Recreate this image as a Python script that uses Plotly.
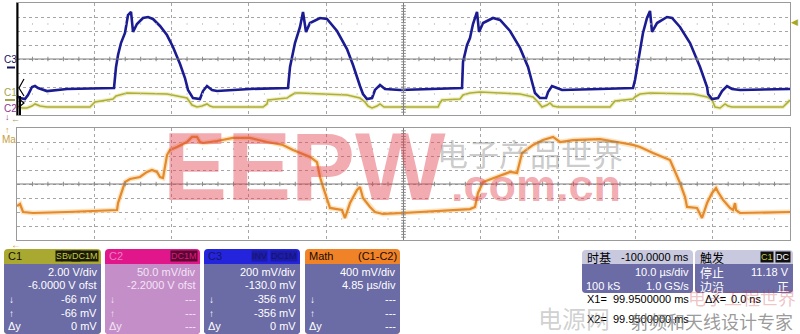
import plotly.graph_objects as go

W, H = 800, 334

# ---------------- data: time in µs, amplitude in screen divisions ----------------
c3_t = [0, 0.39, 1.03, 1.42, 1.94, 2.33, 2.72, 3.88, 6.47, 12.55,
        12.81, 13.07, 13.45, 13.97, 14.36, 14.75, 15.01, 15.52, 16.30, 16.95,
        17.59, 18.50, 19.40, 20.18, 21.09, 21.73, 22.12, 22.77, 23.67, 24.06,
        24.58, 25.23, 25.87, 30.14, 35.06, 35.32, 35.96, 36.61, 37.00, 37.39,
        37.90, 39.20, 40.10, 41.40, 42.69, 43.47, 44.37, 44.76, 45.28, 45.93,
        46.31, 46.96, 47.61, 49.55, 57.57, 57.70, 58.22, 58.60, 58.99, 59.51,
        59.77, 60.29, 61.58, 62.49, 63.78, 65.07, 66.11, 66.76, 67.01, 67.66,
        68.44, 68.70, 69.21, 69.86, 70.51, 75.42, 79.69, 79.95, 80.21, 80.60,
        80.98, 81.50, 81.89, 82.15, 82.80, 84.09, 84.74, 85.77, 87.07, 88.36,
        89.27, 89.40, 89.92, 90.69, 91.21, 91.85, 92.50, 93.54, 100.0]
c3_v = [-2.64, -2.79, -2.86, -2.57, -2.0, -1.93, -2.07, -2.29, -2.14, -2.07,
        -0.57, 0.29, 1.14, 1.86, 3.14, 3.36, 1.93, 2.5, 2.93, 3.0,
        2.86, 2.36, 1.71, 0.86, -0.36, -1.36, -2.21, -2.79, -2.86, -2.29,
        -1.93, -2.21, -2.29, -2.14, -2.07, -0.57, 1.14, 2.29, 3.36, 1.93,
        2.57, 2.93, 2.86, 2.0, 0.71, -0.43, -1.93, -2.5, -2.86, -2.79,
        -2.21, -1.86, -2.14, -2.21, -2.07, -0.21, 1.0, 1.5, 2.5, 3.36,
        1.93, 2.57, 2.93, 2.79, 2.0, 0.79, -0.57, -2.0, -2.43, -2.79,
        -2.79, -2.36, -1.93, -2.07, -2.21, -2.14, -2.07, -1.5, -0.57, 0.64,
        1.86, 2.93, 3.43, 1.93, 2.57, 3.0, 2.93, 2.29, 1.14, -0.57,
        -2.0, -2.5, -2.86, -2.79, -2.29, -1.93, -2.14, -2.21, -2.14]

c1_t = [0, 0.65, 1.29, 1.94, 2.33, 2.98, 3.88, 9.44, 10.09, 12.42,
        12.81, 13.32, 14.23, 19.41, 21.09, 21.99, 22.64, 23.29, 23.93, 24.58,
        24.97, 25.36, 31.83, 32.34, 32.47, 34.93, 35.32, 35.96, 36.61, 42.69,
        44.37, 45.02, 45.41, 45.93, 46.57, 46.96, 47.48, 54.47, 54.72, 54.98,
        57.31, 57.70, 58.60, 59.90, 65.07, 66.76, 67.40, 67.92, 68.57, 68.95,
        69.34, 69.99, 76.72, 77.10, 77.36, 79.69, 79.95, 80.60, 81.89, 87.45,
        89.27, 89.92, 90.30, 90.95, 91.60, 91.98, 92.50, 99.10, 99.61, 100.0]
c1_v = [-3.36, -3.5, -3.5, -3.36, -3.21, -3.36, -3.43, -3.43, -3.07, -2.86,
        -2.64, -2.57, -2.43, -2.5, -2.71, -2.79, -3.29, -3.43, -3.36, -3.21,
        -3.36, -3.43, -3.43, -3.21, -2.93, -2.79, -2.64, -2.43, -2.43, -2.57,
        -2.79, -3.07, -3.36, -3.5, -3.36, -3.21, -3.43, -3.43, -3.14, -2.93,
        -2.86, -2.57, -2.43, -2.36, -2.5, -2.71, -3.07, -3.43, -3.29, -3.14,
        -3.36, -3.43, -3.43, -3.14, -3.0, -2.86, -2.71, -2.5, -2.43, -2.5,
        -2.71, -2.93, -3.43, -3.5, -3.21, -3.36, -3.43, -3.43, -3.14, -2.93]

math_t = [0, 0.39, 0.78, 2.07, 6.47, 12.94, 13.07, 13.58, 13.97, 14.62,
          15.91, 16.82, 17.46, 18.11, 18.50, 18.89, 19.15, 19.41, 19.79, 20.70,
          21.99, 22.64, 23.29, 23.67, 24.06, 25.87, 27.94, 30.14, 32.34, 34.41,
          35.71, 37.91, 38.81, 39.20, 39.59, 40.10, 40.49, 41.40, 42.05, 42.43,
          43.08, 43.99, 44.37, 44.76, 45.67, 46.31, 46.96, 47.35, 49.94, 53.82,
          58.60, 59.25, 59.64, 60.29, 62.10, 63.78, 64.69, 65.33, 66.76, 68.05,
          69.34, 70.25, 71.93, 75.42, 77.62, 79.69, 80.60, 82.28, 84.48, 84.87,
          85.77, 86.42, 86.68, 87.97, 88.62, 89.27, 89.92, 90.43, 90.69, 91.34,
          92.24, 92.63, 92.89, 93.02, 93.54, 100.0]
math_v = [-1.57, -1.43, -2.0, -2.07, -2.0, -1.86, -1.36, -0.43, 0.14, 0.36,
          0.5, 0.86, 1.0, 0.86, 0.5, 0.43, 1.21, 2.07, 2.43, 2.64,
          3.0, 3.36, 3.36, 3.0, 2.93, 3.07, 3.29, 3.29, 3.0, 2.79,
          2.43, 1.93, 1.57, 0.5, -0.21, -1.14, -1.71, -1.79, -1.86, -2.43,
          -1.36, -0.43, -0.21, -1.0, -1.64, -2.0, -2.07, -2.14, -2.07, -1.93,
          -1.79, -1.64, -0.64, 0.14, 0.5, 0.86, 0.79, 2.21, 2.79, 3.14,
          3.36, 3.0, 3.14, 3.21, 3.0, 2.79, 2.64, 2.21, 1.71, 1.21,
          0.07, -0.93, -1.64, -1.71, -2.43, -1.36, -0.64, -0.29, -0.57, -1.14,
          -1.71, -1.86, -1.36, -1.86, -2.07, -2.0]

# readout texts
c1_rows = ["2.00 V/div", "-6.0000 V ofst", "-66 mV", "-66 mV", "0 mV"]
c2_rows = ["50.0 mV/div", "-2.2000 V ofst", "---", "---", "---"]
c3_rows = ["200 mV/div", "-130.0 mV", "-356 mV", "-356 mV", "0 mV"]
math_rows = ["400 mV/div", "4.85 µs/div", "---", "---", "---"]

assert len(c3_t) == len(c3_v) and len(c1_t) == len(c1_v) and len(math_t) == len(math_v)

FONT = "Liberation Sans, Arial, sans-serif"
CJK = "Noto Sans CJK SC"

fig = go.Figure()
fig.add_trace(go.Scatter(x=c1_t, y=c1_v, mode="lines", line=dict(color="rgba(225,225,150,0.55)", width=4),
                         xaxis="x", yaxis="y", hoverinfo="skip"))
fig.add_trace(go.Scatter(x=c1_t, y=c1_v, mode="lines", line=dict(color="#afaf35", width=1.6),
                         xaxis="x", yaxis="y", hoverinfo="skip"))
fig.add_trace(go.Scatter(x=c3_t, y=c3_v, mode="lines", line=dict(color="#1b1b92", width=2.6),
                         xaxis="x", yaxis="y", hoverinfo="skip"))
fig.add_trace(go.Scatter(x=math_t, y=math_v, mode="lines", line=dict(color="rgba(250,210,150,0.6)", width=5),
                         xaxis="x2", yaxis="y2", hoverinfo="skip"))
fig.add_trace(go.Scatter(x=math_t, y=math_v, mode="lines", line=dict(color="#e4892c", width=2.2),
                         xaxis="x2", yaxis="y2", hoverinfo="skip"))

axx = dict(range=[0, 100], dtick=10, showgrid=True, gridcolor="#a6a6a6", griddash="dot", gridwidth=1,
           zeroline=False, showticklabels=False, ticks="", showline=True, linecolor="#9a9a9a",
           linewidth=1, mirror=True, fixedrange=True)
axy = dict(range=[-4, 4], dtick=1, showgrid=True, gridcolor="#a6a6a6", griddash="dot", gridwidth=1,
           zeroline=False, showticklabels=False, ticks="", showline=True, linecolor="#9a9a9a",
           linewidth=1, mirror=True, fixedrange=True)

X0, X1 = 17 / W, 790 / W
fig.update_layout(
    width=W, height=H, margin=dict(l=0, r=0, t=0, b=0),
    paper_bgcolor="white", plot_bgcolor="white", showlegend=False,
    xaxis=dict(domain=[X0, X1], anchor="y", **axx),
    yaxis=dict(domain=[1 - 115 / H, 1 - 3 / H], anchor="x", **axy),
    xaxis2=dict(domain=[X0, X1], anchor="y2", **axx),
    yaxis2=dict(domain=[1 - 240 / H, 1 - 128 / H], anchor="x2", **axy),
)

shapes = []
for xr, yr in (("x", "y"), ("x2", "y2")):
    shapes.append(dict(type="line", xref=xr, yref=yr, x0=50, x1=50, y0=-4, y1=4,
                       line=dict(color="#7c7c7c", width=1)))
    shapes.append(dict(type="line", xref=xr, yref=yr, x0=0, x1=100, y0=0, y1=0,
                       line=dict(color="#7c7c7c", width=1)))
    for k in range(1, 50):
        tx = k * 2
        shapes.append(dict(type="line", xref=xr, yref=yr, x0=tx, x1=tx, y0=-0.16, y1=0.16,
                           line=dict(color="#8a8a8a", width=1)))
        for ry in (2.5, -2.5):
            shapes.append(dict(type="line", xref=xr, yref=yr, x0=tx, x1=tx, y0=ry - 0.06, y1=ry + 0.06,
                               line=dict(color="#c4c4c4", width=1)))
    for k in range(-19, 20):
        ty = k * 0.2
        shapes.append(dict(type="line", xref=xr, yref=yr, x0=49.7, x1=50.3, y0=ty, y1=ty,
                           line=dict(color="#8a8a8a", width=1)))


def P(x, y):
    return f"{x / W:.5f},{1 - y / H:.5f}"


def rr(x0, y0, x1, y1, rt, rb):
    return (f"M {P(x0 + rt, y0)} L {P(x1 - rt, y0)} Q {P(x1, y0)} {P(x1, y0 + rt)} "
            f"L {P(x1, y1 - rb)} Q {P(x1, y1)} {P(x1 - rb, y1)} L {P(x0 + rb, y1)} "
            f"Q {P(x0, y1)} {P(x0, y1 - rb)} L {P(x0, y0 + rt)} Q {P(x0, y0)} {P(x0 + rt, y0)} Z")


def path(d, fill, lc=None, lw=0):
    shapes.append(dict(type="path", xref="paper", yref="paper", path=d, fillcolor=fill,
                       line=dict(color=lc or fill, width=lw), layer="above"))


def txt(x, y, s, color="white", size=11, anchor="left", family=FONT, bg=None, weight=None):
    font = dict(color=color, size=size, family=family)
    if weight:
        font["weight"] = weight
    fig.add_annotation(x=x / W, y=1 - y / H, xref="paper", yref="paper", text=s, showarrow=False,
                       xanchor=anchor, yanchor="middle", font=font,
                       bgcolor=bg, borderpad=0)


# left black border of the upper graticule + offset markers
shapes.append(dict(type="line", xref="paper", yref="paper", x0=17.5 / W, x1=17.5 / W, y0=1 - 115 / H, y1=1 - 3 / H,
                   line=dict(color="black", width=2)))
path(f"M {P(24, 79)} L {P(19, 88)} L {P(24, 96)}", "rgba(0,0,0,0)", "black", 1.2)
path(f"M {P(19, 99)} L {P(24, 103)} L {P(19, 107)}", "rgba(0,0,0,0)", "black", 1.2)
shapes.append(dict(type="line", xref="paper", yref="paper", x0=20 / W, x1=20 / W, y0=1 - 115 / H, y1=1 - 96 / H,
                   line=dict(color="black", width=2)))

# channel markers on the left
txt(3, 59, "C3", "#15155a", 10)
shapes.append(dict(type="line", xref="paper", yref="paper", x0=7 / W, x1=15 / W, y0=1 - 67.5 / H, y1=1 - 67.5 / H,
                   line=dict(color="#15155a", width=2)))
txt(3, 93, "C1", "#a4a44a", 10)
shapes.append(dict(type="line", xref="paper", yref="paper", x0=5 / W, x1=15 / W, y0=1 - 100 / H, y1=1 - 100 / H,
                   line=dict(color="#a4a44a", width=2)))
txt(3, 108, "C2", "#8e3a8e", 10)
txt(4, 117, "↓", "#8e3a8e", 9)
txt(10, 119, "←", "#a4a44a", 9)
txt(4, 130, "↑", "#c8a040", 9)
txt(1, 139, "Ma", "#c8a040", 10)
txt(10, 245, "←", "#d89a40", 10)
txt(799, 22, "◀", "#a8a820", 9, "right")

# ---------------- bottom readout panels ----------------
SLATE = "#6b6ba6"


def channel_box(x0, x1, head_col, body_col, rows, text_col, arrows=True):
    path(rr(x0, 249, x1, 334, 4, 4), head_col)
    path(rr(x0, 264, x1, 334, 0, 4), body_col)
    ys = [272, 285, 299, 313, 326]
    for y, s in zip(ys, rows):
        txt(x1 - 3, y, s, text_col, 11, "right")
    if arrows:
        txt(x0 + 4, 299, "↓", text_col, 10)
        txt(x0 + 4, 313, "↑", text_col, 10)
        txt(x0 + 3, 326, "Δy", text_col, 11)


channel_box(4, 101, "#a9a932", SLATE, c1_rows, "white")
txt(7, 256, "C1", "#111100", 11)
txt(63, 256, "S", "#c8c840", 9, "right", bg="#1c1c06")
txt(81, 256, "BwL", "#c8c840", 9, "right", bg="#1c1c06")
txt(99, 256, "DC1M", "#c8c840", 9, "right", bg="#1c1c06")

channel_box(105, 200, "#e0168a", "#c48ec8", c2_rows, "#f2e4f6")
txt(108, 256, "C2", "#f07cc0", 11)
txt(198, 256, "DC1M", "#e0168a", 9, "right", bg="#5a0830")

channel_box(204, 300, "#2424dc", SLATE, c3_rows, "white")
txt(207, 256, "C3", "#14146a", 11)
txt(268, 256, "INV", "#14146a", 9, "right", bg="#1c1ca8")
txt(298, 256, "DC1M", "#14146a", 9, "right", bg="#1c1ca8")

channel_box(305, 400, "#f08228", SLATE, math_rows, "white")
txt(308, 256, "Math", "#1a0a00", 11)
txt(398, 256, "(C1-C2)", "#1a0a00", 11, "right")

# timebase
path(rr(582, 250, 693, 293, 4, 4), "#c8c8de")
path(rr(582, 264, 693, 293, 0, 4), SLATE)
txt(586, 257, "时基", "black", 12, family=CJK)
txt(690, 257, "-100.0000 ms", "black", 11, "right")
txt(690, 272, "10.0 µs/div", "white", 11, "right")
txt(585, 286, "100 kS", "white", 11)
txt(690, 286, "1.0 GS/s", "white", 11, "right")

# trigger
path(rr(695, 250, 793, 293, 4, 4), "#c8c8de")
path(rr(695, 264, 793, 293, 0, 4), SLATE)
txt(699, 257, "触发", "black", 12, family=CJK)
txt(774, 257, "C1", "#c8c840", 9, "right", bg="#101010")
txt(791, 257, "DC", "white", 9, "right", bg="#101010")
txt(699, 272, "停止", "white", 12, family=CJK)
txt(790, 272, "11.18 V", "white", 11, "right")
txt(699, 286, "边沿", "white", 12, family=CJK)
txt(790, 286, "正", "white", 12, "right", family=CJK)

# cursors
txt(586, 299, "X1=", "black", 11)
txt(612, 299, "99.9500000 ms", "black", 11)
txt(704, 299, "ΔX=", "black", 11)
txt(730, 299, "0.0 ns", "black", 11)
txt(586, 319, "X2=", "black", 11)
txt(612, 319, "99.9500000 ms", "black", 11)

# ---------------- watermarks ----------------
txt(304, 166, "EEPW", "rgba(226,70,82,0.45)", 96, "center", family="Liberation Sans", weight="bold")
txt(530, 152, "电子产品世界", "rgba(120,120,120,0.4)", 31, "center", family=CJK)
txt(536, 186, ".com.cn", "rgba(226,70,82,0.45)", 45, "center", family="Liberation Sans", weight="bold")
txt(574, 317, "电源网", "rgba(150,150,150,0.45)", 24, "center", family=CJK)
txt(712, 321, "射频和天线设计专家", "rgba(110,110,110,0.7)", 18, "center", family=CJK)
txt(742, 297, "电子工程世界", "rgba(200,50,60,0.3)", 18, "center", family=CJK)

fig.update_layout(shapes=shapes)
fig.write_html("out.html")
